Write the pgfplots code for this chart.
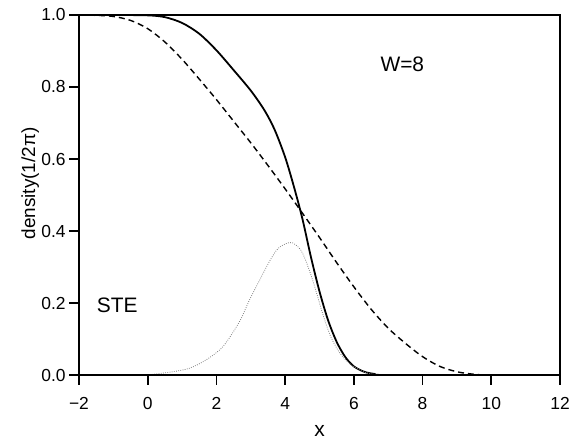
\documentclass[border=0pt]{standalone}
\usepackage{fontspec}
\setmainfont{Liberation Sans}
\usepackage{pgfplots}
\pgfplotsset{compat=1.18}
\begin{document}
\begin{tikzpicture}
\begin{axis}[
  scale only axis, width=481bp, height=360bp,
  xmin=-2, xmax=12, ymin=0, ymax=1,
  xtick={-2,0,2,4,6,8,10,12},
  xticklabels={−2,0,2,4,6,8,10,12},
  ytick={0,0.2,0.4,0.6,0.8,1.0},
  yticklabels={0.0,0.2,0.4,0.6,0.8,1.0},
  axis on top,
  tick align=outside,
  xtick pos=bottom, ytick pos=left,
  major tick length=0.35cm,
  every tick/.style={line width=1.6bp, draw=black},
  axis line style={line width=1.5bp},
  ticklabel style={font=\fontsize{17.5}{20}\selectfont},
  xticklabel style={yshift=-9bp},
  xlabel={x}, ylabel={density(1/2π)},
  xlabel style={font=\fontsize{21}{24}\selectfont, at={(axis description cs:0.5,-0.172)}, anchor=base},
  ylabel style={font=\fontsize{19}{22}\selectfont, at={(axis description cs:-0.127,0.532)}, anchor=north},
  clip=false,
]
% solid
\addplot[black, line width=1.8bp, smooth, tension=0.5] coordinates {
(-2,1.0) (-1,1.0) (0,0.999) (0.5,0.994) (1.0,0.978) (1.5,0.948) (2.0,0.902)
(2.5,0.847) (3.0,0.79) (3.4,0.735) (3.7,0.68) (4.0,0.605) (4.25,0.525)
(4.5,0.435) (4.75,0.328) (5.0,0.232) (5.25,0.152) (5.5,0.092) (5.75,0.05)
(6.0,0.024) (6.3,0.009) (6.6,0.003) (7.0,0) (12,0)};
% dashed
\addplot[black, line width=1.4bp, dash pattern=on 6bp off 4bp, smooth, tension=0.5] coordinates {
(-2,1.0) (-1.5,0.999) (-1,0.996) (-0.5,0.985) (0,0.962) (0.5,0.925) (1.0,0.877)
(1.5,0.822) (2.0,0.765) (2.5,0.705) (3.0,0.645) (3.5,0.582) (4.0,0.517) (4.5,0.45)
(5.0,0.382) (5.5,0.312) (6.0,0.245) (6.5,0.183) (7.0,0.13) (7.5,0.088) (8.0,0.051)
(8.5,0.024) (9.0,0.009) (9.5,0.002) (10,0) (12,0)};
% dotted
\addplot[gray, line width=0.8bp, dash pattern=on 0.8bp off 1.4bp, smooth, tension=0.5] coordinates {
(0,0) (0.73,0.009) (1.22,0.019) (1.7,0.042) (2.19,0.079) (2.67,0.148) (2.96,0.208)
(3.25,0.262) (3.54,0.315) (3.8,0.352) (4.12,0.368) (4.3,0.362) (4.51,0.338) (4.8,0.264)
(5.09,0.171) (5.33,0.106) (5.6,0.06) (5.9,0.03) (6.3,0.008) (6.7,0.001) (7,0)};
\node[font=\fontsize{21}{24}\selectfont] at (axis cs:7.41,0.8625) {W=8};
\node[font=\fontsize{21}{24}\selectfont] at (axis cs:-0.885,0.194) {STE};
\end{axis}
\path ([shift={(-79bp,-65bp)}]current axis.south west) rectangle ([shift={(17bp,15bp)}]current axis.north east);
\end{tikzpicture}
\end{document}
